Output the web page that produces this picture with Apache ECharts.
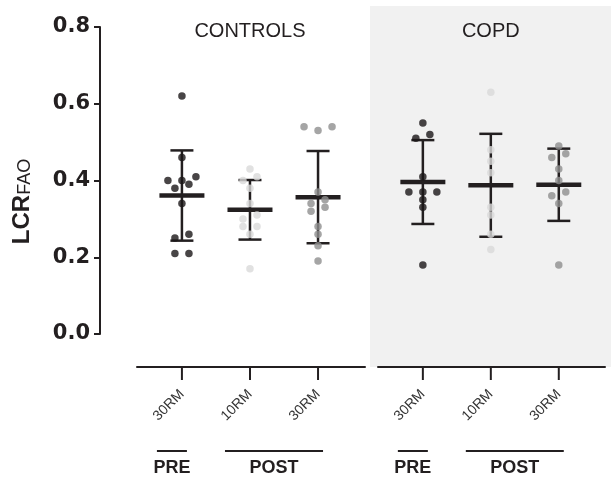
<!DOCTYPE html>
<html><head><meta charset="utf-8">
<script src="https://cdn.jsdelivr.net/npm/echarts@6/dist/echarts.min.js"></script>
<style>html,body{margin:0;padding:0;background:#fff}#c{width:611px;height:499px}</style>
</head><body><div id="c"></div>
<script>
// ---- data ----
const panels = ['CONTROLS', 'COPD'];
const categories = ['30RM', '10RM', '30RM'];
const phases = [{label: 'PRE', from: 1, to: 1}, {label: 'POST', from: 2, to: 3}];
const yTicks = [0, 0.2, 0.4, 0.6, 0.8];
const controlsPre30 = [0.62, 0.46, 0.41, 0.40, 0.40, 0.39, 0.38, 0.34, 0.26, 0.25, 0.21, 0.21];
const controlsPost10 = [0.43, 0.41, 0.40, 0.38, 0.34, 0.31, 0.30, 0.28, 0.28, 0.26, 0.17];
const controlsPost30 = [0.54, 0.54, 0.53, 0.37, 0.35, 0.34, 0.33, 0.32, 0.28, 0.26, 0.23, 0.19];
const copdPre30 = [0.55, 0.52, 0.51, 0.41, 0.37, 0.37, 0.37, 0.35, 0.33, 0.18];
const copdPost10 = [0.63, 0.48, 0.45, 0.42, 0.33, 0.31, 0.26, 0.22];
const copdPost30 = [0.49, 0.47, 0.46, 0.43, 0.40, 0.37, 0.36, 0.34, 0.18];

const panelData = [
  [controlsPre30, controlsPost10, controlsPost30],
  [copdPre30, copdPost10, copdPost30]
];
const groupColors = ['#1a1718', '#d9d9d9', '#8f8f8f'];
const ink = '#231f20';

// beeswarm layout (offsets in x-axis units)
function swarm(values, unit) {
  const sorted = values.slice().sort((a, b) => b - a);
  const clusters = [];
  sorted.forEach(v => {
    const last = clusters[clusters.length - 1];
    if (last && last[last.length - 1] - v <= 0.0101) last.push(v); else clusters.push([v]);
  });
  const out = [];
  clusters.forEach(c => {
    let i = 0, n = c.length;
    while (n > 0) {
      let k = n >= 3 ? 3 : n;
      if (n === 4) k = 2;
      const row = c.slice(i, i + k);
      const slots = k === 3 ? [1, -1, 0] : k === 2 ? [0.5, -0.5] : [0];
      row.forEach((v, j) => out.push([slots[j] * unit, v]));
      i += k; n -= k;
    }
  });
  return out;
}
function stats(a) {
  const m = a.reduce((s, v) => s + v, 0) / a.length;
  const sd = Math.sqrt(a.reduce((s, v) => s + (v - m) * (v - m), 0) / (a.length - 1));
  return [m, sd];
}

const chart = echarts.init(document.getElementById('c'), null, {renderer: 'canvas'});
const fontMain = 'Liberation Sans, Arial, sans-serif';

const plotTop = 27, plotH = 307, axisOffset = 33, tickLen = 13;
const axisLineY = plotTop + plotH + axisOffset;
const xMin = 0.34;
const panelBox = [{left: 137, width: 228, max: 3.69}, {left: 378, width: 227, max: 3.68}];
const grids = [], xAxes = [], yAxes = [];
panelBox.forEach((b, pi) => {
  grids.push({left: b.left, top: plotTop, width: b.width, height: plotH});
  xAxes.push({gridIndex: pi, type: 'value', min: xMin, max: b.max, offset: axisOffset, position: 'bottom',
    splitLine: {show: false}, axisTick: {show: false}, axisLabel: {show: false},
    axisLine: {show: true, onZero: false, lineStyle: {color: ink, width: 2}}});
});
// label strips below the axis line, one category per group position
panelBox.forEach((b, pi) => {
  const unit = b.width / (b.max - xMin);
  grids.push({left: b.left + (1 - xMin) * unit, top: axisLineY, width: (categories.length - 1) * unit,
    height: tickLen});
  xAxes.push({gridIndex: 2 + pi, type: 'category', data: categories, boundaryGap: false, position: 'bottom',
    axisLine: {show: false}, axisTick: {show: false}, splitLine: {show: false},
    axisLabel: {show: true, interval: 0, rotate: 45, margin: 12, fontSize: 14, fontFamily: fontMain, color: '#333'}});
});
yAxes.push({gridIndex: 0, type: 'value', min: yTicks[0], max: yTicks[yTicks.length - 1], interval: 0.2, offset: 37,
   splitLine: {show: false},
   axisLine: {show: true, onZero: false, lineStyle: {color: ink, width: 2}},
   axisTick: {show: true, length: 6, lineStyle: {color: ink, width: 2}},
   axisLabel: {margin: 10, fontSize: 21, fontWeight: 'bold', fontFamily: 'DejaVu Sans', color: ink,
     formatter: v => v.toFixed(1)},
   name: '{a|LCR}{b|FAO}', nameLocation: 'middle', nameGap: 66, nameRotate: 90,
   nameTextStyle: {padding: [0, 42, 0, 0], rich: {
     a: {fontSize: 24, fontWeight: 'bold', fontFamily: fontMain, color: ink, lineHeight: 27, verticalAlign: 'bottom'},
     b: {fontSize: 18, fontFamily: fontMain, color: ink, lineHeight: 18, verticalAlign: 'bottom'}
   }}});
[1, 2, 3].forEach(gi => yAxes.push({gridIndex: gi, type: 'value', min: yTicks[0], max: yTicks[yTicks.length - 1],
  show: false, splitLine: {show: false}}));

const series = [];
panelData.forEach((groups, pi) => {
  series.push({
    type: 'custom', xAxisIndex: pi, yAxisIndex: pi, z: 2, silent: true,
    data: groups.map((g, gi) => [gi + 1].concat(stats(g))),
    renderItem(params, api) {
      const x = api.value(0), m = api.value(1), s = api.value(2);
      const c = api.coord([x, m]), t = api.coord([x, m + s]), b = api.coord([x, m - s]);
      const st = {stroke: ink, lineWidth: 2.5};
      return {type: 'group', children: [
        {type: 'line', shape: {x1: c[0], y1: t[1], x2: c[0], y2: b[1]}, style: st},
        {type: 'line', shape: {x1: c[0] - 11.5, y1: t[1], x2: c[0] + 11.5, y2: t[1]}, style: st},
        {type: 'line', shape: {x1: c[0] - 11.5, y1: b[1], x2: c[0] + 11.5, y2: b[1]}, style: st},
        {type: 'line', shape: {x1: c[0] - 22.5, y1: c[1], x2: c[0] + 22.5, y2: c[1]}, style: {stroke: ink, lineWidth: 4.5}}
      ]};
    }
  });
  groups.forEach((g, gi) => {
    series.push({
      type: 'scatter', xAxisIndex: pi, yAxisIndex: pi, z: 3, symbol: 'circle', symbolSize: 7.5,
      itemStyle: {color: groupColors[gi]},
      data: swarm(g, 14 / 68).map(([dx, v]) => [gi + 1 + dx, v])
    });
  });
});

chart.setOption({
  animation: false,
  backgroundColor: '#fff',
  grid: grids, xAxis: xAxes, yAxis: yAxes, series: series
});

// annotations positioned from the axes
const y0 = chart.convertToPixel({yAxisIndex: 0}, 0);
const axisY = y0 + axisOffset;
const gfx = [];
// COPD panel background
const copdLeft = chart.convertToPixel({xAxisIndex: 1}, xMin) - 8;
gfx.push({type: 'rect', z: -10, silent: true, shape: {x: copdLeft, y: 6, width: 611 - copdLeft, height: axisY - 6},
  style: {fill: '#f1f1f1'}});
panels.forEach((p, pi) => {
  const px = v => chart.convertToPixel({xAxisIndex: pi}, v);
  // category ticks under the axis line
  categories.forEach((c, ci) => {
    const tx = px(ci + 1);
    gfx.push({type: 'line', z: 5, shape: {x1: tx, y1: axisY, x2: tx, y2: axisY + tickLen},
      style: {stroke: ink, lineWidth: 2}});
  });
  gfx.push({type: 'text', style: {text: p, x: px(2), y: 31, align: 'center', verticalAlign: 'middle',
    fontSize: 20, fontFamily: fontMain, fill: '#231f20'}});
  phases.forEach(ph => {
    const x1 = px(ph.from) - 25, x2 = px(ph.to) + 5;
    gfx.push({type: 'line', shape: {x1: x1, y1: axisY + 84, x2: x2, y2: axisY + 84}, style: {stroke: ink, lineWidth: 2}});
    gfx.push({type: 'text', style: {text: ph.label, x: (x1 + x2) / 2, y: axisY + 101, align: 'center', verticalAlign: 'middle',
      fontSize: 18, fontWeight: 'bold', fontFamily: fontMain, fill: ink}});
  });
});
chart.setOption({graphic: gfx});
</script>
</body></html>
